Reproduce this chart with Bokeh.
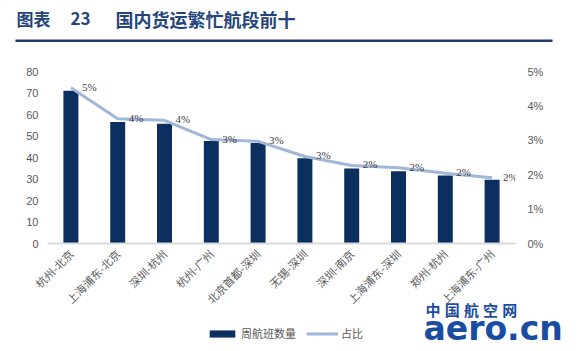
import math
from bokeh.plotting import figure
from bokeh.layouts import column
from bokeh.models import (Range1d, FactorRange, LinearAxis, FixedTicker, ColumnDataSource,
                          LabelSet, Label, Legend, LegendItem, BoxAnnotation)
from bokeh.embed import file_html
from bokeh.resources import INLINE

# ---------------- data ----------------
routes = ["杭州-北京", "上海浦东-北京", "深圳-杭州", "杭州-广州", "北京首都-深圳",
          "无锡-深圳", "深圳-南京", "上海浦东-深圳", "郑州-杭州", "上海浦东-广州"]
flights = [71, 56.5, 55.7, 47.7, 46.8, 39.7, 34.9, 33.6, 31.6, 29.7]
share = [4.53, 3.63, 3.58, 3.02, 2.97, 2.53, 2.27, 2.20, 2.04, 1.91]
left_ticks = [0, 10, 20, 30, 40, 50, 60, 70, 80]
right_ticks = [0, 1, 2, 3, 4, 5]
title_parts = ["图表", "23", "国内货运繁忙航段前十"]
legend_labels = ["周航班数量", "占比"]
logo_top = "中国航空网"
logo_bottom = "aero.cn"

# ---------------- layout ----------------
W, H = 581, 351
FL, FR, FT, FB = 47, 515, 71, 243
BAR_C = "#0B2F5E"
LINE_C = "#9FB7D8"
GREY = "#595959"
TITLE_C = "#24457C"
FONT = "Liberation Sans, Noto Sans CJK SC"
CJK = "Noto Sans CJK SC"

src = ColumnDataSource(dict(route=routes, flights=flights, share=share,
                            lbl=[f"{round(v)}%" for v in share]))

p = figure(width=W, height=H, x_range=FactorRange(*routes), y_range=Range1d(0, left_ticks[-1]),
           output_backend="svg", toolbar_location=None,
           min_border_left=FL, min_border_right=W - FR, min_border_top=FT, min_border_bottom=H - FB)
p.frame_align = False
p.extra_y_ranges = {"pct": Range1d(0, right_ticks[-1])}
p.outline_line_color = None
p.xgrid.visible = False
p.ygrid.visible = False
p.background_fill_color = "white"
p.border_fill_color = "white"

# left axis
ya = p.yaxis[0]
ya.ticker = FixedTicker(ticks=left_ticks)
ya.axis_line_color = None
ya.major_tick_line_color = None
ya.minor_tick_line_color = None
ya.major_tick_out = 0
ya.major_label_standoff = 9
ya.major_label_text_color = GREY
ya.major_label_text_font = FONT
ya.major_label_text_font_size = "11px"

# right axis
ra = LinearAxis(y_range_name="pct", ticker=FixedTicker(ticks=right_ticks))
ra.major_label_overrides = {t: f"{t}%" for t in right_ticks}
ra.axis_line_color = None
ra.major_tick_line_color = None
ra.minor_tick_line_color = None
ra.major_tick_out = 0
ra.major_label_standoff = 12
ra.major_label_text_color = GREY
ra.major_label_text_font = FONT
ra.major_label_text_font_size = "11px"
p.add_layout(ra, "right")

# x axis
xa = p.xaxis[0]
xa.axis_line_color = "#D9D9D9"
xa.axis_line_width = 2
xa.major_tick_line_color = None
xa.minor_tick_line_color = None
xa.major_tick_out = 0
xa.major_label_standoff = 8
xa.major_label_orientation = math.pi / 4
xa.major_label_text_color = GREY
xa.major_label_text_font = CJK
xa.major_label_text_font_size = "11px"

bars = p.vbar(x="route", top="flights", width=0.32, source=src,
              fill_color=BAR_C, line_color=None)
line = p.line(x="route", y="share", source=src, y_range_name="pct",
              line_color=LINE_C, line_width=3)

labels = LabelSet(x="route", y="share", text="lbl", source=src, y_range_name="pct",
                  x_offset=11, y_offset=1, text_baseline="middle", text_align="left",
                  text_font=FONT, text_font_size="11px", text_color="#404040")
p.add_layout(labels)

# ---------------- overlay for title, legend and logo (canvas pixel coordinates) ----------------
ov = figure(width=W, height=H, x_range=Range1d(0, W), y_range=Range1d(H, 0),
            output_backend="svg", toolbar_location=None, title=None,
            x_axis_location=None, y_axis_location=None, min_border=0)
ov.frame_align = False
ov.xgrid.visible = False
ov.ygrid.visible = False
ov.outline_line_color = None
ov.background_fill_color = None
ov.border_fill_color = None
ov.margin = (-H, 0, 0, 0)

# legend proxies (kept outside the visible range)
pbar = ov.vbar(x=[-100], top=[-100], bottom=[-110], width=1, fill_color=BAR_C, line_color=None)
pline = ov.line(x=[-100, -90], y=[-100, -100], line_color=LINE_C, line_width=3)
legend = Legend(items=[LegendItem(label=legend_labels[0], renderers=[pbar]),
                       LegendItem(label=legend_labels[1], renderers=[pline])],
                orientation="horizontal", location=(206, H - 341),
                glyph_width=32, glyph_height=9, label_standoff=3, spacing=10,
                padding=0, margin=0, border_line_color=None, background_fill_alpha=0,
                label_text_font=CJK, label_text_font_size="11px", label_text_color=GREY,
                label_height=12)
ov.add_layout(legend, "center")

# title
for txt, x0, fs in zip(title_parts, [16, 70, 115], ["17px", "17px", "18px"]):
    ov.add_layout(Label(x=x0, y=18, text=txt, text_baseline="middle", text_align="left",
                        text_font=CJK, text_font_size=fs, text_font_style="bold",
                        text_color=TITLE_C))
ov.add_layout(BoxAnnotation(left=15, right=552, top=39, bottom=41.5,
                            fill_color="#1E3F6E", fill_alpha=1, line_color=None))

# watermark logo
for i, ch in enumerate(logo_top):
    ov.add_layout(Label(x=425 + i * 19.2, y=309, text=ch, text_baseline="middle",
                        text_font=CJK, text_font_size="15px", text_font_style="bold",
                        text_color="#1D4DA0"))
ov.add_layout(Label(x=423, y=328, text=logo_bottom, text_baseline="middle",
                    text_font="DejaVu Sans", text_font_size="33px",
                    text_font_style="bold", text_color="#1A4DA1"))

layout = column(p, ov, spacing=0)
open("out.html", "w").write(file_html(layout, INLINE))
